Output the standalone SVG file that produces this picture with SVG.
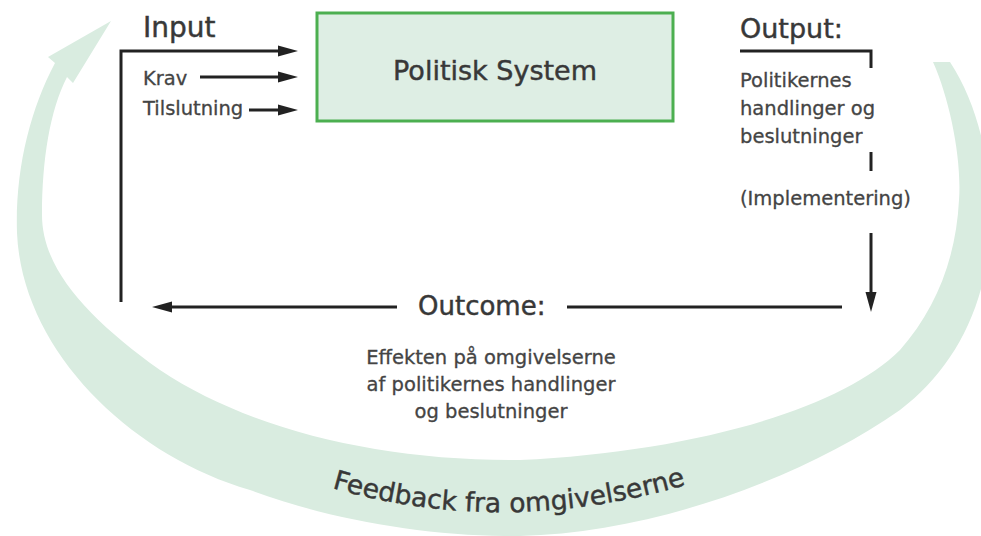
<svg xmlns="http://www.w3.org/2000/svg" width="981" height="536" viewBox="0 0 981 536">
  <style>
    .lbl { font-family: "DejaVu Sans", "Liberation Sans", sans-serif; fill: #383838; stroke: #383838; stroke-width: 0.45; }
    .big { font-size: 27px; }
    .small { font-size: 19.5px; fill: #444; stroke: #444; stroke-width: 0.3; }
    .line { stroke: #222; stroke-width: 3; fill: none; }
  </style>
  <defs>
    <marker id="ah" viewBox="0 0 20 12" refX="10" refY="6" markerWidth="20" markerHeight="12" markerUnits="userSpaceOnUse" orient="auto">
      <path d="M0,0.5 L20,6 L0,11.5 Z" fill="#222"/>
    </marker>
    <path id="fbPath" d="M 332,488 Q 512,540 702,480"/>
  </defs>
  <rect width="981" height="536" fill="#ffffff"/>

  <g id="feedback">
    <path d="M 55,63 C 30,110 15,170 17,233 C 22,350 130,455 250,490 C 330,520 430,537 520,536 C 650,533 800,480 900,410 C 960,365 995,290 990,200 C 988,150 975,100 950,62 L 933,62 C 950,100 962,160 959,200 C 956,260 935,310 900,350 C 840,410 690,452 520,460 C 380,461 250,430 160,370 C 90,320 42,270 42,215 C 42,160 50,110 67,77 L 73,83 L 111,21 L 48,57 Z" fill="#d9ece0"/>
    <text class="lbl" font-size="26.5" fill="#333"><textPath href="#fbPath">Feedback fra omgivelserne</textPath></text>
  </g>

  <g id="connectors">
    <polyline class="line" points="121,302 121,51 288,51" marker-end="url(#ah)"/>
    <line class="line" x1="200" y1="77" x2="288" y2="77" marker-end="url(#ah)"/>
    <line class="line" x1="249" y1="110" x2="288" y2="110" marker-end="url(#ah)"/>
    <polyline class="line" points="740,51 871,51 871,68"/>
    <line class="line" x1="871" y1="152" x2="871" y2="171"/>
    <line class="line" x1="871" y1="233" x2="871" y2="302" marker-end="url(#ah)"/>
    <line class="line" x1="842" y1="307" x2="567" y2="307"/>
    <line class="line" x1="397" y1="307" x2="162" y2="307" marker-end="url(#ah)"/>
  </g>

  <g id="politisk-system">
    <rect x="317" y="13" width="356" height="108" fill="#deeee4" stroke="#4caf50" stroke-width="3"/>
    <text class="lbl big" x="495" y="80" text-anchor="middle">Politisk System</text>
  </g>

  <g id="input">
    <text class="lbl" font-size="28" x="143" y="37">Input</text>
    <text class="lbl small" x="143" y="85">Krav</text>
    <text class="lbl small" x="143" y="115">Tilslutning</text>
  </g>

  <g id="output">
    <text class="lbl big" x="740" y="38">Output:</text>
    <text class="lbl small" x="740" y="87">Politikernes</text>
    <text class="lbl small" x="740" y="115">handlinger og</text>
    <text class="lbl small" x="740" y="143">beslutninger</text>
    <text class="lbl small" x="740" y="205">(Implementering)</text>
  </g>

  <g id="outcome">
    <text class="lbl" font-size="26" x="418" y="315">Outcome:</text>
    <text class="lbl small" x="491" y="364" text-anchor="middle">Effekten på omgivelserne</text>
    <text class="lbl small" x="491" y="391" text-anchor="middle">af politikernes handlinger</text>
    <text class="lbl small" x="491" y="418" text-anchor="middle">og beslutninger</text>
  </g>
</svg>
